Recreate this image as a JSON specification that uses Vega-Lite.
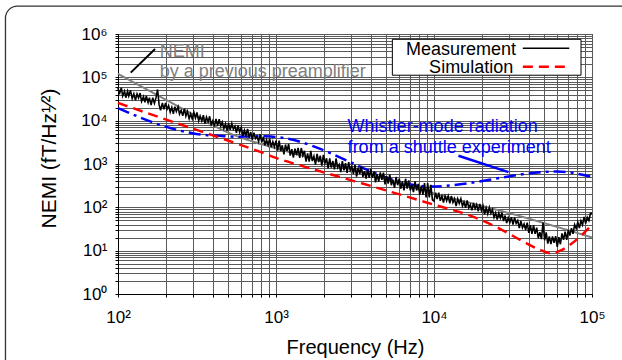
{
"$schema": "https://vega.github.io/schema/vega-lite/v6.json",
"width": 474, "height": 260,
"autosize": {"type": "none"},
"padding": {"left": 118, "top": 34, "right": 30, "bottom": 66},
"background": "white",
"config": {"view": {"stroke": "black", "strokeWidth": 1}, "font": "Liberation Sans"},
"encoding": {
  "x": {"field": "f", "type": "quantitative",
    "scale": {"type": "log", "domain": [100, 100000], "nice": false},
    "axis": {"values": [100,200,300,400,500,600,700,800,900,1000,2000,3000,4000,5000,6000,7000,8000,9000,10000,20000,30000,40000,50000,60000,70000,80000,90000,100000],
      "labelExpr": "datum.value == 100 ? '10²' : datum.value == 1000 ? '10³' : datum.value == 10000 ? '10⁴' : datum.value == 100000 ? '10⁵' : ''",
      "grid": true, "gridColor": "#5a5a5a", "gridWidth": 1, "gridOpacity": 1,
      "domainColor": "black", "tickColor": "black", "tickSize": 3,
      "labelFont": "Liberation Sans", "labelFontSize": 17, "labelColor": "black", "labelPadding": 12,
      "labelFlush": false, "labelOverlap": false, "labelBound": false,
      "title": "Frequency (Hz)", "titleFont": "Liberation Sans", "titleFontSize": 20, "titleFontWeight": "normal", "titleColor": "black", "titlePadding": 12}},
  "y": {"field": "v", "type": "quantitative",
    "scale": {"type": "log", "domain": [1, 1000000], "nice": false},
    "axis": {"values": [1,2,3,4,5,6,7,8,9,10,20,30,40,50,60,70,80,90,100,200,300,400,500,600,700,800,900,1000,2000,3000,4000,5000,6000,7000,8000,9000,10000,20000,30000,40000,50000,60000,70000,80000,90000,100000,200000,300000,400000,500000,600000,700000,800000,900000,1000000],
      "labelExpr": "datum.value == 1 ? '10⁰' : datum.value == 10 ? '10¹' : datum.value == 100 ? '10²' : datum.value == 1000 ? '10³' : datum.value == 10000 ? '10⁴' : datum.value == 100000 ? '10⁵' : datum.value == 1000000 ? '10⁶' : ''",
      "grid": true, "gridColor": "#5a5a5a", "gridWidth": 1, "gridOpacity": 1,
      "domainColor": "black", "tickColor": "black", "tickSize": 3,
      "labelFont": "Liberation Sans", "labelFontSize": 17, "labelColor": "black", "labelPadding": 8,
      "labelFlush": false, "labelOverlap": false, "labelBound": false,
      "title": "NEMI (fT/Hz¹⁄²)", "titleFont": "Liberation Sans", "titleFontSize": 21, "titleFontWeight": "normal", "titleColor": "black", "titleX": -59, "titleY": 124}}
},
"layer": [
  {"data": {"values": [{"f": 19.4, "f2": 200000, "v": 4410000, "v2": 0.001}]},
   "mark": {"type": "rect", "fill": "transparent", "stroke": "#333333", "strokeWidth": 1.3, "cornerRadius": 12, "clip": false},
   "encoding": {"x2": {"field": "f2"}, "y2": {"field": "v2"}}},
  {"data": {"values": [{"f":100,"v":120000},{"f":380,"v":8710},{"f":437,"v":6610},{"f":501,"v":5250},{"f":1000,"v":2290},{"f":3162,"v":724},{"f":10000,"v":210},{"f":27350,"v":80.4},{"f":100000,"v":20.2}]},
   "mark": {"type": "line", "color": "#808080", "strokeWidth": 2, "interpolate": "monotone"}},
  {"data": {"values": [{"f":100,"v":19500},{"f":214,"v":6760},{"f":295,"v":5130},{"f":355,"v":4680},{"f":437,"v":4470},{"f":562,"v":4270},{"f":676,"v":4320},{"f":832,"v":4370},{"f":955,"v":4270},{"f":9500,"v":302},{"f":60000,"v":671},{"f":100000,"v":501}]},
   "mark": {"type": "line", "color": "#0000ff", "strokeWidth": 2.5, "strokeDash": [12, 5, 3, 5], "interpolate": "monotone"}},
  {"data": {"values": [{"f":100,"v":25700},{"f":200,"v":10700},{"f":398,"v":4570},{"f":794,"v":1905},{"f":1000,"v":1380},{"f":1413,"v":933},{"f":3162,"v":398},{"f":10000,"v":115},{"f":17780,"v":60.3},{"f":26300,"v":31.6},{"f":36700,"v":16.2},{"f":46800,"v":10.5},{"f":54300,"v":8.71},{"f":63100,"v":10.0},{"f":73000,"v":13.8},{"f":84300,"v":21.4},{"f":100000,"v":39.8}]},
   "mark": {"type": "line", "color": "#ff0000", "strokeWidth": 2.5, "strokeDash": [10, 6], "interpolate": "monotone"}},
  {"data": {"values": [
{"f":100,"v":57500},{"f":102,"v":40700},{"f":105,"v":57500},{"f":107,"v":37200},{"f":110,"v":47900},{"f":112,"v":33900},{"f":115,"v":47900},{"f":117,"v":37200},{"f":120,"v":50100},{"f":123,"v":32400},
{"f":126,"v":41700},{"f":129,"v":29400},{"f":132,"v":41500},{"f":135,"v":33700},{"f":138,"v":43300},{"f":141,"v":27900},{"f":145,"v":35800},{"f":148,"v":26500},{"f":151,"v":37300},{"f":155,"v":26400},
{"f":158,"v":33900},{"f":162,"v":22900},{"f":166,"v":33900},{"f":170,"v":25100},{"f":174,"v":33900},{"f":178,"v":52500},{"f":182,"v":23400},{"f":186,"v":17400},{"f":191,"v":25700},{"f":195,"v":18200},
{"f":200,"v":25700},{"f":204,"v":18200},{"f":209,"v":22300},{"f":214,"v":15700},{"f":219,"v":20200},{"f":224,"v":14300},{"f":229,"v":21100},{"f":234,"v":16300},{"f":240,"v":21000},{"f":245,"v":14200},
{"f":251,"v":17400},{"f":257,"v":12900},{"f":263,"v":19000},{"f":269,"v":12800},{"f":275,"v":16400},{"f":282,"v":11100},{"f":288,"v":14300},{"f":295,"v":11000},{"f":302,"v":15600},{"f":309,"v":11500},
{"f":316,"v":15500},{"f":324,"v":9980},{"f":331,"v":12800},{"f":339,"v":9930},{"f":347,"v":13400},{"f":355,"v":8610},{"f":363,"v":12100},{"f":372,"v":9400},{"f":380,"v":12600},{"f":389,"v":8150},
{"f":398,"v":10000},{"f":407,"v":7380},{"f":417,"v":10900},{"f":427,"v":7660},{"f":437,"v":10800},{"f":447,"v":7590},{"f":457,"v":9290},{"f":468,"v":6550},{"f":479,"v":8390},{"f":490,"v":5920},
{"f":501,"v":8710},{"f":513,"v":6140},{"f":525,"v":8630},{"f":537,"v":6370},{"f":550,"v":7450},{"f":562,"v":5250},{"f":575,"v":7730},{"f":589,"v":5450},{"f":603,"v":6980},{"f":617,"v":4490},
{"f":631,"v":6030},{"f":646,"v":4610},{"f":661,"v":6430},{"f":676,"v":4090},{"f":692,"v":5450},{"f":708,"v":3630},{"f":724,"v":5300},{"f":741,"v":3870},{"f":759,"v":4290},{"f":776,"v":3280},
{"f":794,"v":4790},{"f":813,"v":3190},{"f":832,"v":4250},{"f":851,"v":2700},{"f":871,"v":3600},{"f":891,"v":2750},{"f":912,"v":3840},{"f":933,"v":2440},{"f":955,"v":3250},{"f":977,"v":2490},
{"f":1000,"v":3470},{"f":1023,"v":2030},{"f":1047,"v":3440},{"f":1072,"v":2010},{"f":1096,"v":2700},{"f":1122,"v":1660},{"f":1148,"v":2810},{"f":1175,"v":1980},{"f":1202,"v":2910},{"f":1230,"v":1560},
{"f":1259,"v":2190},{"f":1288,"v":1410},{"f":1318,"v":2270},{"f":1349,"v":1600},{"f":1380,"v":2360},{"f":1413,"v":1380},{"f":1445,"v":2340},{"f":1479,"v":1570},{"f":1514,"v":2020},{"f":1549,"v":1140},
{"f":1585,"v":1750},{"f":1622,"v":1130},{"f":1660,"v":2000},{"f":1698,"v":1170},{"f":1738,"v":1510},{"f":1778,"v":971},{"f":1820,"v":1720},{"f":1862,"v":1110},{"f":1905,"v":1560},{"f":1950,"v":914},
{"f":1995,"v":1620},{"f":2042,"v":1050},{"f":2089,"v":1350},{"f":2138,"v":793},{"f":2188,"v":1340},{"f":2239,"v":828},{"f":2291,"v":1170},{"f":2344,"v":753},{"f":2399,"v":1340},{"f":2455,"v":824},
{"f":2512,"v":966},{"f":2570,"v":653},{"f":2630,"v":1160},{"f":2692,"v":714},{"f":2754,"v":1050},{"f":2818,"v":621},{"f":2884,"v":1100},{"f":2951,"v":711},{"f":3020,"v":873},{"f":3090,"v":590},
{"f":3162,"v":955},{"f":3236,"v":512},{"f":3311,"v":828},{"f":3388,"v":585},{"f":3467,"v":904},{"f":3548,"v":507},{"f":3631,"v":682},{"f":3715,"v":460},{"f":3802,"v":745},{"f":3890,"v":480},
{"f":3981,"v":776},{"f":4074,"v":478},{"f":4169,"v":673},{"f":4266,"v":378},{"f":4365,"v":583},{"f":4467,"v":394},{"f":4571,"v":637},{"f":4677,"v":430},{"f":4786,"v":634},{"f":4898,"v":340},
{"f":5012,"v":525},{"f":5129,"v":355},{"f":5248,"v":575},{"f":5370,"v":324},{"f":5495,"v":437},{"f":5623,"v":282},{"f":5754,"v":501},{"f":5888,"v":324},{"f":6026,"v":457},{"f":6166,"v":269},
{"f":6310,"v":398},{"f":6457,"v":245},{"f":6607,"v":457},{"f":6761,"v":269},{"f":6918,"v":417},{"f":7079,"v":245},{"f":7244,"v":331},{"f":7413,"v":224},{"f":7586,"v":398},{"f":7762,"v":245},
{"f":7943,"v":347},{"f":8128,"v":195},{"f":8318,"v":316},{"f":8511,"v":195},{"f":8710,"v":363},{"f":8913,"v":170},{"f":9120,"v":363},{"f":9333,"v":170},{"f":9550,"v":331},{"f":9772,"v":148},
{"f":10000,"v":138},{"f":10230,"v":219},{"f":10470,"v":155},{"f":10720,"v":219},{"f":10960,"v":141},{"f":11220,"v":182},{"f":11480,"v":129},{"f":11750,"v":182},{"f":12020,"v":141},{"f":12300,"v":182},
{"f":12590,"v":123},{"f":12880,"v":182},{"f":13180,"v":129},{"f":13490,"v":158},{"f":13800,"v":107},{"f":14130,"v":158},{"f":14450,"v":123},{"f":14790,"v":158},{"f":15140,"v":107},{"f":15490,"v":132},
{"f":15850,"v":97.7},{"f":16220,"v":145},{"f":16600,"v":97.7},{"f":16980,"v":115},{"f":17380,"v":85.1},{"f":17780,"v":126},{"f":18200,"v":93.3},{"f":18620,"v":115},{"f":19050,"v":81.3},{"f":19500,"v":120},
{"f":19950,"v":85.1},{"f":20420,"v":108},{"f":20890,"v":69.2},{"f":21380,"v":96.6},{"f":21880,"v":70.8},{"f":22390,"v":98.9},{"f":22910,"v":72.4},{"f":23440,"v":88.1},{"f":23990,"v":58.9},{"f":24550,"v":75.0},
{"f":25120,"v":52.5},{"f":25700,"v":73.5},{"f":26300,"v":56.5},{"f":26920,"v":75.5},{"f":27540,"v":48.3},{"f":28180,"v":64.6},{"f":28840,"v":43.3},{"f":29510,"v":57.8},{"f":30200,"v":44.5},{"f":30900,"v":59.4},
{"f":31620,"v":39.8},{"f":32360,"v":58.2},{"f":33110,"v":42.7},{"f":33880,"v":49.5},{"f":34670,"v":33.1},{"f":35480,"v":48.4},{"f":36310,"v":33.9},{"f":37150,"v":41.2},{"f":38020,"v":30.2},{"f":38900,"v":44.2},
{"f":39810,"v":25.7},{"f":40740,"v":38.9},{"f":41690,"v":24.5},{"f":42660,"v":38.9},{"f":43650,"v":24.5},{"f":44670,"v":33.9},{"f":45710,"v":19.4},{"f":46770,"v":26.7},{"f":47860,"v":18.4},{"f":48980,"v":44.7},
{"f":50120,"v":17.4},{"f":51290,"v":26.4},{"f":52480,"v":14.6},{"f":53700,"v":21.2},{"f":54950,"v":14.1},{"f":56230,"v":21.4},{"f":57540,"v":15.1},{"f":58880,"v":21.6},{"f":60260,"v":12.3},{"f":61660,"v":20.4},
{"f":63100,"v":14.1},{"f":64570,"v":25.1},{"f":66070,"v":17.8},{"f":67610,"v":27.5},{"f":69180,"v":17.8},{"f":70790,"v":30.2},{"f":72440,"v":22.4},{"f":74130,"v":33.1},{"f":75860,"v":24.5},{"f":77620,"v":39.8},
{"f":79430,"v":32.4},{"f":81280,"v":45.3},{"f":83180,"v":33.3},{"f":85110,"v":48.8},{"f":87100,"v":39.3},{"f":89130,"v":60.3},{"f":91200,"v":42.1},{"f":93330,"v":58.6},{"f":95500,"v":49.2},{"f":97720,"v":71.8},
{"f":100000,"v":72.4}]},
   "mark": {"type": "line", "color": "black", "strokeWidth": 1.6}},
  {"data": {"values": [{"f": 5450, "f2": 85200, "v": 755000, "v2": 111800}]},
   "mark": {"type": "rect", "fill": "white", "stroke": "black", "strokeWidth": 1},
   "encoding": {"x2": {"field": "f2"}, "y2": {"field": "v2"}}},
  {"data": {"values": [{"f": 33100, "v": 328000, "t": "Measurement"}, {"f": 31700, "v": 128000, "t": "Simulation"}]},
   "mark": {"type": "text", "align": "right", "baseline": "alphabetic", "fontSize": 18, "color": "black", "font": "Liberation Sans"},
   "encoding": {"text": {"field": "t"}}},
  {"data": {"values": [{"f": 36500, "f2": 71800, "v": 468000, "v2": 468000}]},
   "mark": {"type": "rule", "color": "black", "strokeWidth": 1.5},
   "encoding": {"x2": {"field": "f2"}, "y2": {"field": "v2"}}},
  {"data": {"values": [{"f": 36500, "f2": 71800, "v": 176400, "v2": 176400}]},
   "mark": {"type": "rule", "color": "#ff0000", "strokeWidth": 2.5, "strokeDash": [10, 6]},
   "encoding": {"x2": {"field": "f2"}, "y2": {"field": "v2"}}},
  {"data": {"values": [{"f": 183.5, "v": 300000, "t": "NEMI"}, {"f": 183.5, "v": 100000, "t": "by a previous preamplifier"}]},
   "mark": {"type": "text", "align": "left", "baseline": "alphabetic", "fontSize": 18, "color": "#808080", "font": "Liberation Sans"},
   "encoding": {"text": {"field": "t"}}},
  {"data": {"values": [{"f": 120.4, "f2": 171.6, "v": 128300, "v2": 451000}]},
   "mark": {"type": "rule", "color": "black", "strokeWidth": 2},
   "encoding": {"x2": {"field": "f2"}, "y2": {"field": "v2"}}},
  {"data": {"values": [{"f": 2840, "v": 5610, "t": "Whistler-mode radiation"}, {"f": 2840, "v": 1841, "t": "from a shuttle experiment"}]},
   "mark": {"type": "text", "align": "left", "baseline": "alphabetic", "fontSize": 18, "color": "#0000ff", "font": "Liberation Sans"},
   "encoding": {"text": {"field": "t"}}},
  {"data": {"values": [{"f": 14280, "f2": 29610, "v": 1545, "v2": 651}]},
   "mark": {"type": "rule", "color": "#0000ff", "strokeWidth": 2.5},
   "encoding": {"x2": {"field": "f2"}, "y2": {"field": "v2"}}}
]
}
